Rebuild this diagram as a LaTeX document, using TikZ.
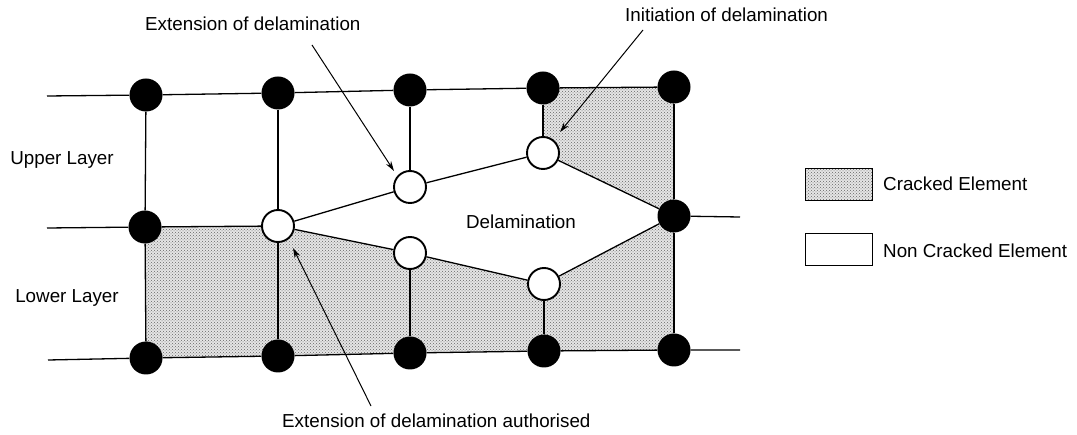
\documentclass[tikz,border=0pt]{standalone}
\usepackage{fontspec}
\setmainfont{Liberation Sans}
\usetikzlibrary{patterns,arrows.meta,backgrounds}
\begin{document}
\begin{tikzpicture}[x=1pt,y=-1pt,
  full/.style={circle,fill=black,inner sep=0pt,minimum size=33pt},
  open/.style={circle,draw=black,line width=1.9pt,fill=white,inner sep=0pt,minimum size=32pt},
  ln/.style={line width=1.3pt},
  crack/.style={preaction={fill=black!10},pattern=crosshatch dots,pattern color=black!60},
  lbl/.style={font=\fontsize{18.8}{22}\selectfont,inner sep=0pt},
  arr/.style={line width=1pt,-{Stealth[length=10pt,width=6pt]}},
  legbox/.style={draw=black,line width=1pt,minimum width=67pt,minimum height=32pt,inner sep=0pt}]
\useasboundingbox (0,0) rectangle (1077,435);

% nodes of the mesh
\node[full] (a1) at (146,95) {};
\node[full] (a2) at (278,93) {};
\node[full] (a3) at (410,90) {};
\node[full] (a4) at (543,88) {};
\node[full] (a5) at (674,87) {};
\node[full] (b1) at (145,227) {};
\node[open] (b2) at (278,226) {};
\node[full] (b5) at (674,216) {};
\node[open] (u3) at (410,187) {};
\node[open] (u4) at (543,153) {};
\node[open] (l3) at (410,253) {};
\node[open] (l4) at (544,284) {};
\node[full] (c1) at (146,358) {};
\node[full] (c2) at (278,356) {};
\node[full] (c3) at (410,353) {};
\node[full] (c4) at (544,351) {};
\node[full] (c5) at (674,350) {};
\coordinate (tl) at (47,96);
\coordinate (ml) at (47,228);
\coordinate (mr) at (740,217);
\coordinate (bl) at (48,360);
\coordinate (br) at (740,350);

% cracked elements
\begin{scope}[on background layer]
  \fill[crack] (a4.center) -- (a5.center) -- (b5.center) -- (u4.center) -- cycle;
  \fill[crack] (b1.center) -- (b2.center) -- (l3.center) -- (l4.center) -- (b5.center)
     -- (c5.center) -- (c4.center) -- (c3.center) -- (c2.center) -- (c1.center) -- cycle;
\end{scope}

% mesh lines
\draw[ln] (tl) -- (a1) -- (a2) -- (a3) -- (a4) -- (a5);
\draw[ln] (ml) -- (b1) -- (b2);
\draw[ln] (b5) -- (mr);
\draw[ln] (bl) -- (c1) -- (c2) -- (c3) -- (c4) -- (c5) -- (br);
\draw[ln] (a1) -- (b1) -- (c1);
\draw[ln] (a2) -- (b2) -- (c2);
\draw[ln] (a3) -- (u3);
\draw[ln] (l3) -- (c3);
\draw[ln] (a4) -- (u4);
\draw[ln] (l4) -- (c4);
\draw[ln] (a5) -- (b5) -- (c5);
\draw[ln] (b2) -- (u3) -- (u4) -- (b5);
\draw[ln] (b2) -- (l3) -- (l4) -- (b5);

% labels
\node[lbl] (upper) at (62,160) {Upper Layer};
\node[lbl] (lower) at (67,298) {Lower Layer};
\node[lbl] (delam) at (521,222) {Delamination};
\node[lbl,anchor=west] (ext) at (145,24) {Extension of delamination};
\node[lbl,anchor=west] (init) at (625,15) {Initiation of delamination};
\node[lbl,anchor=west] (auth) at (282,421) {Extension of delamination authorised};
\coordinate (extA) at (312,45);
\coordinate (extB) at (394,171);
\coordinate (initA) at (643,30);
\coordinate (initB) at (560,132);
\coordinate (authA) at (371,406);
\coordinate (authB) at (293,248);
\draw[arr] (extA) -- (extB);
\draw[arr] (initA) -- (initB);
\draw[arr] (authA) -- (authB);

% legend
\node[legbox,crack,anchor=north west] (legc) at (805,168) {};
\node[legbox,fill=white,anchor=north west] (legn) at (805,233) {};
\node[lbl,anchor=west] (legct) at (883,184) {Cracked Element};
\node[lbl,anchor=west] (legnt) at (883,251) {Non Cracked Element};
\end{tikzpicture}
\end{document}
